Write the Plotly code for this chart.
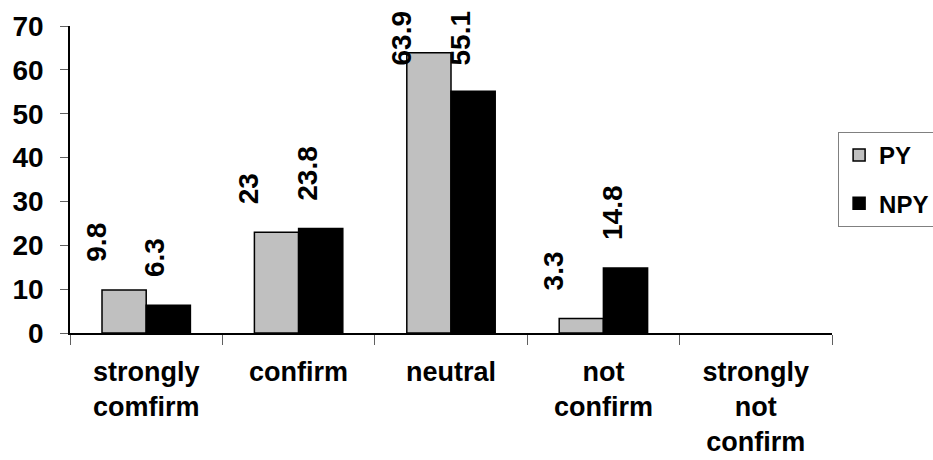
import plotly.graph_objects as go

categories = ["strongly<br>comfirm", "confirm", "neutral", "not<br>confirm", "strongly<br>not<br>confirm"]
py_values = [9.8, 23, 63.9, 3.3, None]
npy_values = [6.3, 23.8, 55.1, 14.8, None]
y_ticks = [0, 10, 20, 30, 40, 50, 60, 70]

FONT = "Liberation Sans, Arial, sans-serif"
label_cap = 54.5  # keep tall labels inside the figure

fig = go.Figure()
fig.add_trace(go.Bar(
    name="PY", x=categories, y=py_values,
    marker=dict(color="#C0C0C0", line=dict(color="black", width=1.5)),
    legendgroup="a",
))
fig.add_trace(go.Bar(
    name="NPY", x=categories, y=npy_values,
    marker=dict(color="black", line=dict(color="black", width=1.5)),
    legendgroup="b",
))

annotations = []
for vals, xs in ((py_values, -50), (npy_values, 9)):
    for c, v in zip(categories, vals):
        if v is None:
            continue
        annotations.append(dict(
            x=c, y=min(v, label_cap), xref="x", yref="y",
            text=f"<b>{v:g}</b>", showarrow=False, textangle=-90,
            xanchor="center", yanchor="bottom", xshift=xs, yshift=26,
            font=dict(family=FONT, size=28, color="black"),
        ))

fig.update_layout(
    width=933, height=460,
    margin=dict(l=70, r=101, t=26, b=127, autoexpand=False),
    paper_bgcolor="white", plot_bgcolor="white",
    barmode="group", bargap=0.42, bargroupgap=0,
    font=dict(family=FONT, color="black"),
    annotations=annotations,
    legend=dict(
        x=1.008, y=0.655, xanchor="left", yanchor="top",
        bordercolor="#808080", borderwidth=1,
        font=dict(family=FONT, size=24, color="black", weight="bold"),
        tracegroupgap=14, traceorder="grouped",
    ),
    showlegend=True,
)
fig.update_xaxes(
    type="category", showline=True, linecolor="black", linewidth=1.5,
    ticks="outside", tickson="boundaries", ticklen=10, tickcolor="#606060",
    tickfont=dict(family=FONT, size=27, color="black", weight="bold"),
    ticklabelstandoff=14, showgrid=False, zeroline=False, automargin=False,
)
fig.update_yaxes(
    range=[0, 70], tickvals=y_ticks, ticktext=[str(t) for t in y_ticks],
    showline=True, linecolor="black", linewidth=1.5,
    ticks="outside", ticklen=8, tickcolor="#606060",
    tickfont=dict(family=FONT, size=28, color="black", weight="bold"),
    ticklabelstandoff=11, showgrid=False, zeroline=False, automargin=False,
)

fig.write_html("out.html", config={"displayModeBar": False},
               post_script="document.body.style.margin='0';")
